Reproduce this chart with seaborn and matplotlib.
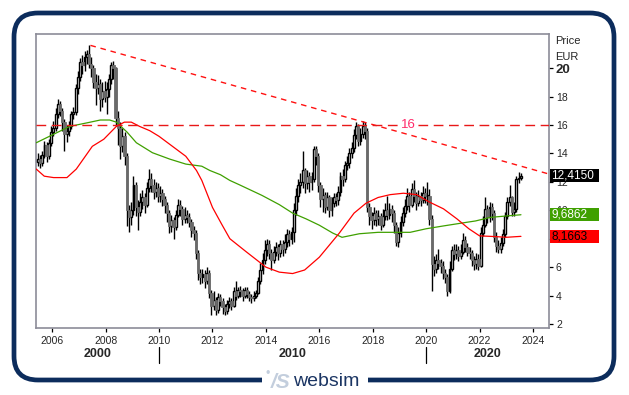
import matplotlib
matplotlib.use("Agg")
import matplotlib.pyplot as plt
import matplotlib.transforms as mtransforms
from matplotlib.patches import FancyBboxPatch, Rectangle
import seaborn as sns
import numpy as np
import pandas as pd

# monthly candles, Jun 2005 .. Jul 2023 (open = previous close)
first_open = 13.4
closes = [
    13.6, 13.3, 13.9, 14.6, 13.8, 14.7, 15.5,                              # 2005
    15.8, 16.8, 17.5, 17.0, 16.2, 15.4, 15.6, 15.9, 16.8, 16.9, 18.6, 19.4,  # 2006
    20.4, 20.2, 20.8, 21.0, 20.3, 20.0, 19.0, 18.6, 18.9, 17.8, 18.4, 18.0,  # 2007
    18.5, 19.2, 20.2, 20.0, 16.5, 15.8, 14.5, 15.2, 13.8, 10.0, 9.5, 10.0,   # 2008
    11.8, 10.2, 9.9, 10.6, 10.9, 10.4, 11.6, 12.2, 11.8, 11.3, 11.6, 11.0,   # 2009
    11.2, 10.8, 10.4, 9.8, 8.9, 9.3, 8.8, 9.7, 10.4, 10.1, 9.4, 9.7,         # 2010
    9.5, 9.2, 8.6, 8.4, 7.0, 5.6, 5.3, 5.5, 5.0, 5.6, 4.2, 3.3,              # 2011
    3.7, 3.0, 3.9, 3.6, 3.2, 2.9, 3.4, 3.6, 3.3, 4.3, 4.0, 4.4,              # 2012
    4.3, 4.0, 4.4, 4.1, 3.9, 3.8, 4.0, 4.2, 5.0, 5.8, 6.5, 7.2,              # 2013
    7.6, 7.0, 6.5, 7.1, 7.4, 7.0, 7.6, 7.3, 7.8, 8.3, 8.0, 8.5,              # 2014
    10.0, 11.0, 11.8, 12.0, 12.8, 11.9, 12.4, 12.0, 12.2, 14.3, 13.8, 11.8,  # 2015
    10.8, 11.1, 10.2, 10.9, 10.0, 10.5, 10.9, 10.7, 11.3, 12.4, 12.2, 13.2,  # 2016
    13.3, 14.0, 14.4, 15.3, 15.9, 14.9, 15.4, 15.9, 15.6, 10.2, 9.6, 9.3,    # 2017
    9.8, 9.4, 9.6, 9.0, 9.6, 10.0, 9.7, 10.1, 9.8, 9.0, 7.8, 8.4,            # 2018
    9.2, 9.8, 10.3, 11.0, 10.4, 11.5, 11.0, 10.5, 11.0, 10.7, 11.2, 11.0,    # 2019
    11.0, 9.4, 6.2, 5.9, 6.5, 6.3, 6.1, 5.6, 5.3, 4.3, 5.9, 7.2,             # 2020
    6.9, 7.2, 6.8, 7.1, 7.9, 7.4, 7.1, 7.0, 6.5, 6.2, 6.6, 6.1,              # 2021
    8.4, 9.0, 10.1, 9.5, 10.2, 9.8, 8.1, 7.5, 7.3, 7.7, 8.3, 9.6,            # 2022
    10.6, 10.9, 9.9, 10.1, 12.2, 12.3, 12.415,                              # 2023
]
highs = [
    14.0, 13.9, 14.2, 14.9, 14.8, 15.0, 15.9,
    16.3, 17.2, 17.8, 17.7, 17.2, 16.4, 16.0, 16.3, 17.0, 17.3, 18.9, 19.8,
    20.7, 20.9, 21.2, 21.3, 21.6, 20.8, 20.2, 19.6, 19.5, 19.2, 19.0, 19.1,
    19.0, 19.6, 20.4, 20.5, 20.1, 17.0, 16.2, 15.8, 15.5, 14.0, 10.4, 10.6,
    12.4, 12.0, 10.7, 11.2, 11.4, 11.2, 12.0, 12.9, 12.6, 12.2, 12.0, 11.9,
    11.7, 11.5, 11.0, 10.6, 10.0, 9.7, 9.5, 10.0, 10.8, 10.7, 10.3, 10.2,
    10.0, 9.8, 9.4, 8.9, 8.6, 7.2, 5.9, 5.9, 5.8, 6.0, 5.8, 4.4,
    4.3, 3.9, 4.2, 4.1, 3.8, 3.4, 3.7, 3.9, 3.8, 4.6, 5.0, 4.6,
    4.7, 4.5, 4.6, 4.6, 4.3, 4.1, 4.3, 4.4, 5.3, 6.3, 7.0, 7.9,
    8.0, 7.9, 7.3, 7.5, 7.8, 7.6, 7.9, 7.9, 8.3, 8.7, 8.6, 8.8,
    10.5, 11.6, 12.2, 12.6, 14.2, 13.0, 12.8, 12.7, 12.7, 14.5, 14.5, 14.0,
    12.0, 11.6, 11.3, 11.3, 11.1, 10.9, 11.2, 11.2, 11.7, 12.7, 12.9, 13.5,
    13.8, 14.4, 14.8, 15.7, 16.2, 16.1, 15.8, 16.3, 16.2, 15.8, 10.5, 9.9,
    10.2, 10.0, 10.0, 9.8, 10.1, 10.5, 11.0, 10.5, 10.4, 10.0, 9.2, 8.8,
    9.6, 10.2, 10.8, 11.6, 11.3, 11.9, 12.1, 11.3, 11.4, 11.3, 11.7, 11.6,
    12.0, 11.5, 9.7, 6.8, 6.9, 7.3, 6.6, 6.4, 5.9, 5.5, 6.4, 7.5,
    7.6, 7.6, 7.5, 7.6, 8.4, 8.2, 7.7, 7.4, 7.2, 6.8, 7.0, 6.9,
    8.8, 9.6, 10.9, 10.4, 10.6, 10.5, 10.0, 8.5, 7.9, 8.1, 8.7, 9.9,
    10.9, 11.8, 11.0, 10.6, 12.4, 12.7, 12.6,
]
lows = [
    13.1, 13.0, 13.1, 13.7, 13.4, 13.6, 14.5,
    15.2, 15.6, 16.5, 16.6, 15.6, 14.2, 14.8, 15.2, 15.7, 16.4, 16.7, 18.2,
    19.1, 19.6, 19.8, 20.3, 20.0, 19.4, 18.6, 17.4, 18.2, 17.0, 17.3, 17.6,
    16.8, 18.0, 18.9, 19.2, 15.9, 14.6, 13.6, 14.1, 13.2, 8.9, 8.5, 9.0,
    9.7, 9.6, 8.6, 9.6, 10.1, 9.8, 10.2, 11.3, 11.3, 10.8, 10.9, 10.6,
    10.6, 10.3, 9.8, 9.2, 8.4, 8.5, 8.0, 8.6, 9.5, 9.6, 9.0, 9.1,
    9.1, 8.8, 8.1, 7.9, 6.6, 5.1, 4.8, 4.9, 4.5, 4.8, 3.8, 2.6,
    3.0, 2.6, 2.8, 3.3, 2.7, 2.6, 2.7, 3.1, 3.0, 3.2, 3.7, 3.8,
    3.9, 3.6, 3.8, 3.8, 3.6, 3.5, 3.6, 3.8, 4.1, 4.8, 5.5, 6.2,
    6.8, 6.6, 5.8, 6.3, 6.8, 6.5, 6.7, 6.8, 7.0, 7.4, 7.5, 7.6,
    7.8, 9.7, 10.6, 11.2, 11.6, 11.2, 11.5, 11.3, 11.4, 12.0, 13.2, 11.3,
    10.2, 9.9, 9.8, 10.0, 9.5, 9.6, 10.2, 10.3, 10.4, 11.0, 11.7, 12.0,
    12.8, 13.0, 13.7, 14.1, 15.0, 14.5, 14.6, 15.1, 15.0, 9.9, 9.0, 8.7,
    9.0, 8.9, 9.0, 8.6, 8.8, 9.3, 9.3, 9.4, 9.2, 8.4, 7.5, 7.4,
    8.1, 8.9, 9.5, 10.0, 9.9, 10.2, 10.6, 10.0, 10.3, 10.3, 10.5, 10.5,
    10.4, 9.0, 4.3, 5.4, 5.6, 5.9, 5.6, 5.2, 4.9, 4.0, 4.2, 5.7,
    6.5, 6.6, 6.4, 6.6, 6.9, 7.1, 6.8, 6.6, 6.1, 5.8, 5.9, 5.8,
    6.0, 8.2, 8.8, 9.1, 9.2, 9.3, 7.8, 7.1, 7.0, 7.0, 7.5, 8.1,
    9.4, 10.3, 9.6, 9.6, 9.9, 11.9, 12.1,
]

# moving averages (decimal year, EUR)
ma_red_t = [2005.4, 2005.7, 2006.05, 2006.55, 2006.9, 2007.2, 2007.5, 2007.93, 2008.4,
            2008.7, 2008.96, 2009.27, 2009.65, 2010.0, 2010.5, 2011.0, 2011.4, 2011.6,
            2012.0, 2012.35, 2012.65, 2013.25, 2014.0, 2014.5, 2015.0, 2015.45, 2016.0,
            2016.75, 2017.3, 2017.75, 2018.2, 2018.65, 2019.15, 2019.65, 2020.1, 2020.65,
            2021.15, 2021.6, 2022.0, 2022.6, 2023.0, 2023.55]
ma_red_v = [12.9, 12.4, 12.3, 12.3, 12.9, 13.7, 14.5, 15.0, 15.9,
            16.2, 16.2, 15.9, 15.6, 15.2, 14.5, 13.8, 12.8, 12.1,
            10.2, 9.0, 8.0, 7.1, 6.0, 5.65, 5.55, 5.8, 6.7,
            8.4, 9.8, 10.5, 10.9, 11.1, 11.2, 11.1, 10.6, 10.1,
            9.4, 8.7, 8.2, 8.15, 8.1, 8.1663]
ma_green_t = [2005.4, 2006.0, 2006.65, 2007.3, 2007.8, 2008.15, 2008.4, 2008.8, 2009.15,
              2009.75, 2010.4, 2011.0, 2011.6, 2011.9, 2012.3, 2012.65, 2013.0, 2013.85,
              2014.5, 2015.0, 2015.5, 2016.0, 2016.5, 2016.85, 2017.5, 2018.2, 2019.4,
              2020.0, 2020.65, 2021.5, 2021.85, 2022.4, 2023.0, 2023.55]
ma_green_v = [14.75, 15.3, 15.9, 16.15, 16.35, 16.35, 16.2, 15.5, 14.75,
              14.05, 13.6, 13.25, 13.1, 12.8, 12.5, 12.1, 11.8, 11.05,
              10.4, 9.8, 9.4, 8.95, 8.4, 8.1, 8.35, 8.45, 8.45,
              8.7, 8.9, 9.15, 9.25, 9.5, 9.6, 9.6862]

trend_t = [2007.43, 2024.6]
trend_v = [21.6, 12.55]
resistance = 16

last_labels = ["12,4150", "9,6862", "8,1663"]
last_values = [12.415, 9.6862, 8.1663]
last_colors = ["#000000", "#3fa000", "#ff0000"]
last_text = ["white", "white", "black"]

y_ticks = list(range(2, 21, 2))
x_ticks = list(range(2006, 2025, 2))
decades = ["2000", "2010", "2020"]

# ---
n = len(closes)
t = 2005 + (5 + np.arange(n) + 0.5) / 12
opens = np.array([first_open] + closes[:-1])
df = pd.DataFrame({"t": t, "open": opens, "close": closes, "high": highs, "low": lows})
df["up"] = df["close"] >= df["open"]

sns.set_style("white")
plt.rcParams["font.family"] = ["Liberation Sans", "DejaVu Sans"]

W, H = 629, 395
fig = plt.figure(figsize=(W / 100, H / 100), dpi=100)

# frame + logo layer in pixel coords
bg = fig.add_axes([0, 0, 1, 1], zorder=0)
bg.set_xlim(0, W)
bg.set_ylim(H, 0)
bg.axis("off")
navy = "#0c2c5c"
bg.add_patch(FancyBboxPatch((14, 13), 600, 367, boxstyle="round,pad=0,rounding_size=24",
                            fill=False, ec=navy, lw=3.4))
bg.add_patch(Rectangle((262, 372), 106, 16, fc="white", ec="none", zorder=3))
bg.text(268, 374, "\u2022", color="#c3cedd", fontsize=9, ha="center", va="center", zorder=4)
bg.text(271, 382, "/S", color="#c3cedd", fontsize=15, fontweight="bold", style="italic",
        ha="left", va="center", zorder=4)
bg.text(293, 381, "websim", color="#1b3563", fontsize=14, ha="left", va="center", zorder=4)

ax = fig.add_axes([35.7 / W, 1 - 328 / H, (549 - 35.7) / W, (328 - 34) / H], zorder=1)
ax.set_facecolor("white")

# candles
ax.vlines(df["t"], df["low"], df["high"], color="black", lw=1.0, zorder=2)
body_lo = df[["open", "close"]].min(axis=1)
body_h = (df["close"] - df["open"]).abs().clip(lower=0.08)
up = df["up"]
ax.bar(df["t"][up], body_h[up], bottom=body_lo[up], width=0.068, color="white",
       edgecolor="black", linewidth=1.0, zorder=3)
ax.bar(df["t"][~up], body_h[~up], bottom=body_lo[~up], width=0.09, color="#6a6a6a",
       edgecolor="#6a6a6a", linewidth=0.6, zorder=3)

# moving averages
sns.lineplot(x=ma_green_t, y=ma_green_v, color="#3fa000", lw=0.9, ax=ax,
             estimator=None, sort=False, zorder=4)
sns.lineplot(x=ma_red_t, y=ma_red_v, color="#ff0000", lw=0.9, ax=ax,
             estimator=None, sort=False, zorder=4)

# trend & resistance
ax.plot(trend_t, trend_v, color="#ff1010", lw=1, ls=(0, (4, 3.5)), zorder=5)
ax.axhline(resistance, color="#e81818", lw=1, ls=(0, (7, 4)), zorder=5)
ax.text(2019.33, resistance, "16", color="#ff2a6a", fontsize=9.5, ha="center", va="center",
        bbox=dict(fc="white", ec="none", pad=0.5), zorder=6)

ax.set_xlim(2005.38, 2024.6)
ax.set_ylim(1.72, 22.4)
ax.set_xlabel("")
ax.set_ylabel("")

for s in ax.spines.values():
    s.set_color("#8c8c98")
    s.set_linewidth(1.2)

ax.yaxis.tick_right()
ax.set_yticks(y_ticks)
ax.set_yticklabels([str(v) for v in y_ticks])
ax.set_xticks(x_ticks)
ax.set_xticklabels([str(v) for v in x_ticks])
ax.tick_params(axis="both", direction="out", length=3, width=0.9, color="black",
               labelsize=7.5, pad=2)
ax.tick_params(axis="x", pad=3)
ax.tick_params(axis="both", which="both", bottom=True, right=True, left=False, top=False)
for lab in ax.get_yticklabels():
    if lab.get_text() == "20":
        lab.set_fontweight("bold")
        lab.set_fontsize(9.5)

# decade row
trans = mtransforms.blended_transform_factory(ax.transData, ax.transAxes)
xmin, xmax = ax.get_xlim()
bounds = [xmin, 2010, 2020, xmax]
for i, lab in enumerate(decades):
    ax.text((bounds[i] + bounds[i + 1]) / 2, -0.088, lab, transform=trans, ha="center",
            va="center", fontsize=9, fontweight="bold")
for b in bounds[1:-1]:
    ax.plot([b, b], [-0.066, -0.118], transform=trans, color="black", lw=0.9, clip_on=False)

# axis title
fig.text(555 / W, 1 - 41 / H, "Price", fontsize=8, ha="left", va="center")
fig.text(555 / W, 1 - 57 / H, "EUR", fontsize=8, ha="left", va="center")

# last value boxes (drawn over the 8/10/12 tick labels, as in the source chart)
btrans = mtransforms.blended_transform_factory(fig.transFigure, ax.transData)
box_h = 0.92
for lab, v, c, tc in zip(last_labels, last_values, last_colors, last_text):
    fig.patches.append(Rectangle((550 / W, v - box_h / 2), 49 / W, box_h, transform=btrans,
                                 fc=c, ec="none", zorder=10, figure=fig))
    fig.text(551 / W, v, lab, transform=btrans, color=tc, fontsize=8.5, ha="left",
             va="center", zorder=11)

fig.savefig("out.png", dpi=100)
